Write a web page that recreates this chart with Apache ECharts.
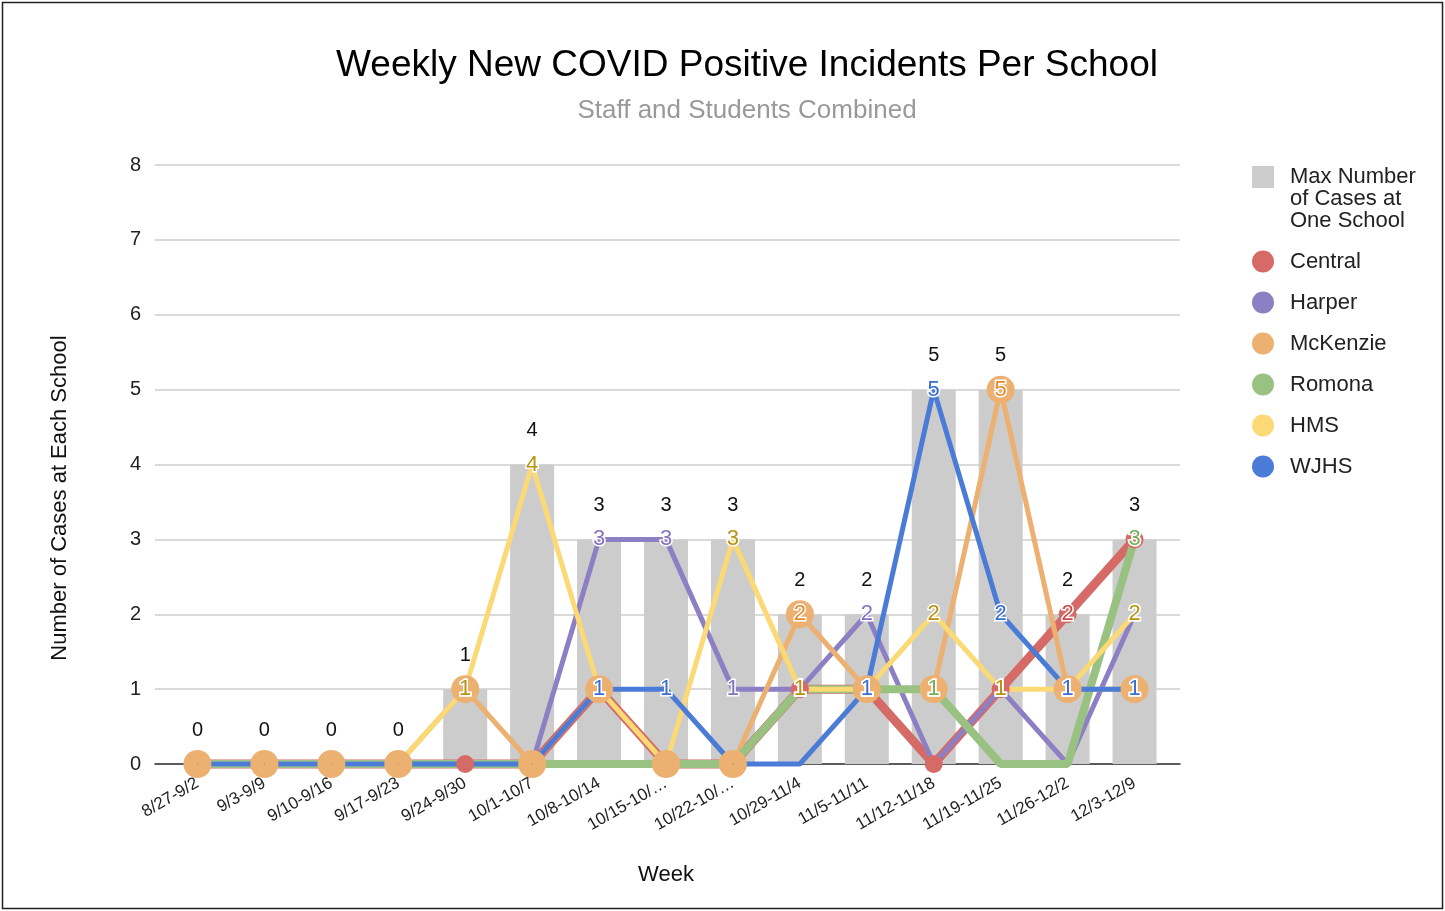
<!DOCTYPE html>
<html>
<head>
<meta charset="utf-8">
<script src="https://cdn.jsdelivr.net/npm/echarts@6/dist/echarts.min.js"></script>
<style>html,body{margin:0;padding:0;background:#fff;}#main{width:1445px;height:911px;}</style>
</head>
<body>
<div id="main"></div>
<script>
const weeks = ['8/27-9/2','9/3-9/9','9/10-9/16','9/17-9/23','9/24-9/30','10/1-10/7','10/8-10/14','10/15-10/…','10/22-10/…','10/29-11/4','11/5-11/11','11/12-11/18','11/19-11/25','11/26-12/2','12/3-12/9'];
const maxCases = [0,0,0,0,1,4,3,3,3,2,2,5,5,2,3];
const central  = [0,0,0,0,0,0,1,0,0,1,1,0,1,2,3];
const harper   = [0,0,0,0,0,0,3,3,1,1,2,0,1,0,2];
const mckenzie = [0,0,0,0,1,0,1,0,0,2,1,1,5,1,1];
const romona   = [0,0,0,0,0,0,0,0,0,1,1,1,0,0,3];
const hms      = [0,0,0,0,1,4,1,0,3,1,1,2,1,1,2];
const wjhs     = [0,0,0,0,0,0,1,1,0,0,1,5,2,1,1];
const yTicks = [0,1,2,3,4,5,6,7,8];

const FONT = "'Liberation Sans', Arial, sans-serif";
const MAXNAME = 'Max Number\nof Cases at\nOne School';

function lineSeries(name, data, color, labelColor, width, symSize) {
  return {
    name: name, type: 'line', data: data, xAxisIndex: 1, yAxisIndex: 1,
    color: color,
    lineStyle: { color: color, width: width },
    itemStyle: { color: color },
    symbol: 'circle', symbolSize: symSize, showSymbol: true,
    clip: false,
    label: {
      show: true, position: 'inside',
      formatter: p => (p.value === 0 ? '' : String(p.value)),
      color: labelColor, fontSize: 22, fontFamily: FONT,
      textBorderColor: '#fff', textBorderWidth: 3
    },
    emphasis: { disabled: true },
    z: 3
  };
}

const chart = echarts.init(document.getElementById('main'), null, { renderer: 'canvas' });
chart.setOption({
  animation: false,
  backgroundColor: '#fff',
  textStyle: { fontFamily: FONT },
  title: [
    { text: 'Weekly New COVID Positive Incidents Per School', left: 742, textAlign: 'center', top: 42,
      textStyle: { fontSize: 37, fontWeight: 'normal', color: '#000', fontFamily: FONT } },
    { text: 'Staff and Students Combined', left: 742, textAlign: 'center', top: 93,
      textStyle: { fontSize: 26, fontWeight: 'normal', color: '#999', fontFamily: FONT } }
  ],
  legend: {
    orient: 'vertical', left: 1252, top: 122, padding: 0,
    itemWidth: 22, itemHeight: 22, itemGap: 18,
    formatter: n => (n === MAXNAME ? '\n\n' + n : n),
    textStyle: { fontSize: 22, color: '#222', fontFamily: FONT, lineHeight: 23, padding: [0, 0, 0, 11] },
    data: [
      { name: MAXNAME, icon: 'rect', textStyle: { lineHeight: 22, padding: [0, 0, 0, 11] } },
      { name: 'Central', icon: 'circle' },
      { name: 'Harper', icon: 'circle' },
      { name: 'McKenzie', icon: 'circle' },
      { name: 'Romona', icon: 'circle' },
      { name: 'HMS', icon: 'circle' },
      { name: 'WJHS', icon: 'circle' }
    ]
  },
  grid: [
    { left: 155, right: 265, top: 165, bottom: 147 },
    { left: 164, right: 277, top: 165, bottom: 147 }
  ],
  xAxis: [
    { type: 'value', gridIndex: 0, min: 0, max: 1, show: true,
      axisLine: { show: true, onZero: false, lineStyle: { color: '#333', width: 1.5 } },
      axisTick: { show: false }, axisLabel: { show: false }, splitLine: { show: false } },
    { type: 'category', gridIndex: 1, data: weeks, boundaryGap: true,
      axisLine: { show: false }, axisTick: { show: false },
      axisLabel: { rotate: 30, fontSize: 17, color: '#222', margin: 18, interval: 0, fontFamily: FONT },
      name: 'Week', nameLocation: 'middle', nameGap: 100,
      nameTextStyle: { fontSize: 22, color: '#111', fontFamily: FONT } }
  ],
  yAxis: [
    { type: 'value', gridIndex: 0, min: 0, max: 8, interval: 1,
      axisLine: { show: false }, axisTick: { show: false },
      axisLabel: { fontSize: 20, color: '#222', margin: 14, fontFamily: FONT,
        formatter: v => (yTicks.indexOf(v) >= 0 ? String(v) : '') },
      splitLine: { show: true, lineStyle: { color: '#dadada', width: 2 } } },
    { type: 'value', gridIndex: 1, min: 0, max: 8, interval: 1, show: false,
      splitLine: { show: false } }
  ],
  graphic: [
    { type: 'text', x: 60, y: 498, rotation: Math.PI / 2,
      style: { text: 'Number of Cases at Each School', fontSize: 22, fill: '#111', fontFamily: FONT,
        textAlign: 'center', textVerticalAlign: 'middle' } },
    { type: 'rect', shape: { x: 2.5, y: 2.5, width: 1440, height: 906 },
      style: { fill: 'none', stroke: '#222', lineWidth: 1.5 }, z: 100 }
  ],
  series: [
    { name: MAXNAME, type: 'bar', data: maxCases, xAxisIndex: 1, yAxisIndex: 1,
      barWidth: 44, itemStyle: { color: '#cccccc' }, color: '#cccccc',
      label: { show: true, position: 'top', distance: 24, fontSize: 20, color: '#111', fontFamily: FONT },
      emphasis: { disabled: true }, z: 2 },
    lineSeries('Central', central, '#d66a66', '#cc4a47', 9, 18),
    lineSeries('Harper', harper, '#8d7fc4', '#8473c0', 5, 1),
    lineSeries('McKenzie', mckenzie, '#ecb071', '#e68a2e', 5, 28),
    lineSeries('Romona', romona, '#99c282', '#76b05a', 8, 1),
    lineSeries('HMS', hms, '#fbd975', '#b8930f', 5, 1),
    lineSeries('WJHS', wjhs, '#4a7bd6', '#3a6fd2', 5, 1)
  ]
});
</script>
</body>
</html>
